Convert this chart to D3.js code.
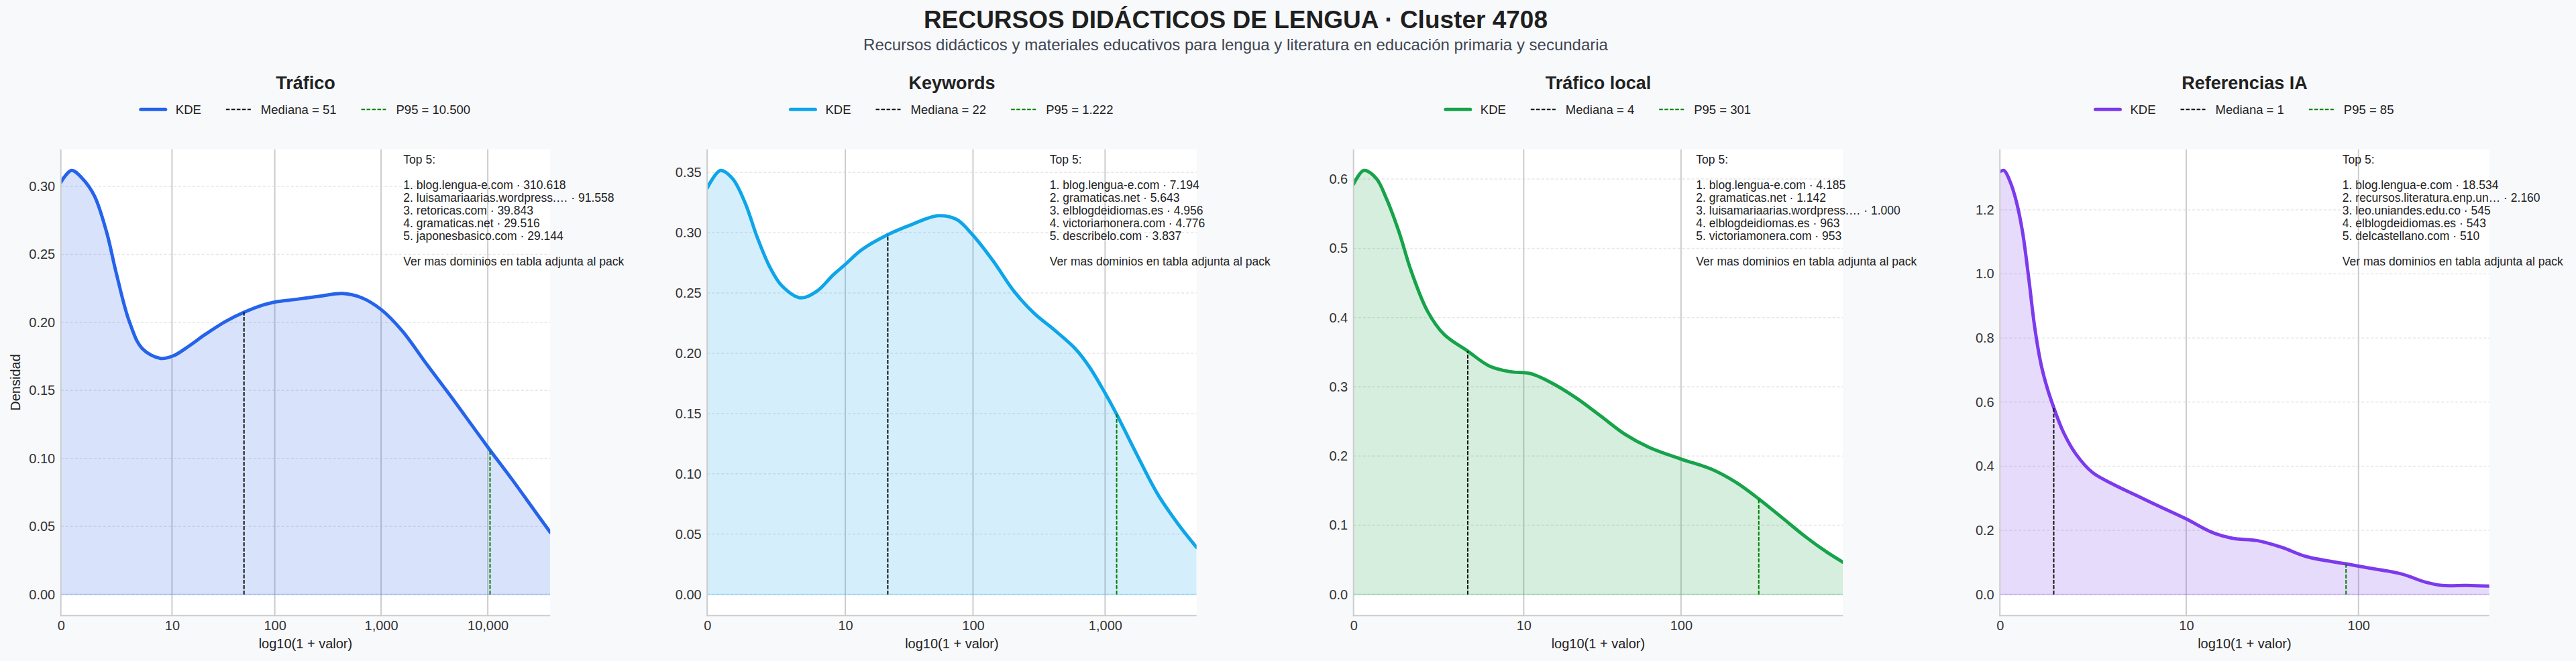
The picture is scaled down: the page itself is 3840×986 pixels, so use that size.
<!DOCTYPE html>
<html>
<head>
<meta charset="utf-8">
<script src="https://cdn.jsdelivr.net/npm/d3@7"></script>
<style>
  body { margin: 0; background: #f8f9fb; }
  svg text { font-family: "Liberation Sans", Arial, sans-serif; }
</style>
</head>
<body>
<script>
// chart text
var mainTitle = "RECURSOS DIDÁCTICOS DE LENGUA · Cluster 4708";
var subTitle = "Recursos didácticos y materiales educativos para lengua y literatura en educación primaria y secundaria";
var panelTitles = ["Tráfico", "Keywords", "Tráfico local", "Referencias IA"];
var lineColors = ["#2563eb", "#0ea5e9", "#16a34a", "#7c3aed"];

// KDE curves, x = log10(1 + valor)
var traficoX = [0, 0.1, 0.2, 0.315, 0.43, 0.52, 0.64, 0.76, 0.93, 1.05, 1.2, 1.35, 1.55, 1.72, 1.89, 2.0, 2.2, 2.43, 2.64, 2.82, 3.0, 3.2, 3.43, 3.66, 3.85, 4.02, 4.24, 4.43, 4.585];
var traficoY = [0.303, 0.3117, 0.306, 0.293, 0.266, 0.236, 0.201, 0.181, 0.1736, 0.1753, 0.1826, 0.191, 0.201, 0.2076, 0.2127, 0.2149, 0.2169, 0.2193, 0.2213, 0.2181, 0.2095, 0.1936, 0.169, 0.145, 0.1245, 0.1062, 0.0832, 0.0625, 0.0457];

var keywordsX = [0, 0.1, 0.19, 0.285, 0.378, 0.47, 0.563, 0.703, 0.827, 0.95, 1.04, 1.167, 1.362, 1.54, 1.74, 1.88, 2.0, 2.158, 2.313, 2.467, 2.622, 2.777, 2.88, 3.0, 3.087, 3.24, 3.396, 3.55, 3.69];
var keywordsY = [0.337, 0.3516, 0.345, 0.325, 0.296, 0.272, 0.256, 0.246, 0.2515, 0.265, 0.2736, 0.286, 0.2984, 0.3067, 0.3141, 0.311, 0.2984, 0.2763, 0.2515, 0.233, 0.219, 0.2036, 0.189, 0.167, 0.1495, 0.116, 0.0833, 0.0585, 0.039];

var localX = [0, 0.063, 0.139, 0.2, 0.277, 0.353, 0.453, 0.554, 0.698, 0.831, 0.957, 1.083, 1.209, 1.36, 1.511, 1.66, 1.81, 2.005, 2.19, 2.34, 2.48, 2.62, 2.77, 2.897, 2.995];
var localY = [0.5927, 0.6124, 0.601, 0.5725, 0.5245, 0.467, 0.409, 0.3756, 0.3516, 0.330, 0.3218, 0.319, 0.306, 0.2843, 0.258, 0.2315, 0.2123, 0.1955, 0.181, 0.162, 0.138, 0.1114, 0.0826, 0.061, 0.0466];

var iaX = [0, 0.023, 0.057, 0.092, 0.126, 0.161, 0.195, 0.23, 0.264, 0.301, 0.356, 0.425, 0.517, 0.632, 0.747, 0.862, 1.041, 1.184, 1.3, 1.437, 1.575, 1.713, 1.933, 2.057, 2.241, 2.379, 2.471, 2.61, 2.735];
var iaY = [1.319, 1.3226, 1.288, 1.226, 1.133, 0.9876, 0.832, 0.718, 0.645, 0.583, 0.505, 0.4378, 0.3807, 0.344, 0.313, 0.282, 0.2355, 0.194, 0.175, 0.168, 0.147, 0.118, 0.0954, 0.083, 0.0643, 0.0384, 0.028, 0.028, 0.0259];

var curveX = [traficoX, keywordsX, localX, iaX];
var curveY = [traficoY, keywordsY, localY, iaY];
var logMax = [4.585, 3.69, 2.995, 2.735];

var medians = [51, 22, 4, 1];
var p95s = [10500, 1222, 301, 85];

var xTickValues = [0, 10, 100, 1000, 10000];
var yTicks = [
    [0, 0.05, 0.10, 0.15, 0.20, 0.25, 0.30],
    [0, 0.05, 0.10, 0.15, 0.20, 0.25, 0.30, 0.35],
    [0, 0.1, 0.2, 0.3, 0.4, 0.5, 0.6],
    [0, 0.2, 0.4, 0.6, 0.8, 1.0, 1.2]
];
var yFormats = [".2f", ".2f", ".1f", ".1f"];

var top5Domains = [
    ["blog.lengua-e.com", "luisamariaarias.wordpress.…", "retoricas.com", "gramaticas.net", "japonesbasico.com"],
    ["blog.lengua-e.com", "gramaticas.net", "elblogdeidiomas.es", "victoriamonera.com", "describelo.com"],
    ["blog.lengua-e.com", "gramaticas.net", "luisamariaarias.wordpress.…", "elblogdeidiomas.es", "victoriamonera.com"],
    ["blog.lengua-e.com", "recursos.literatura.enp.un…", "leo.uniandes.edu.co", "elblogdeidiomas.es", "delcastellano.com"]
];
var top5Values = [
    [310618, 91558, 39843, 29516, 29144],
    [7194, 5643, 4956, 4776, 3837],
    [4185, 1142, 1000, 963, 953],
    [18534, 2160, 545, 543, 510]
];

// layout
var figW = 3840, figH = 986;
var axTop = 222.7, axHeight = 695.6, axWidth = 729.5;
var axLeft0 = 90.7, axStep = 963.5;
var textColor = "#222222";

var esNum = function (v) { return d3.format(",")(v).replace(/,/g, "."); };
var log1p10 = function (v) { return Math.log10(1 + v); };

var svg = d3.select("body").append("svg")
    .attr("width", figW)
    .attr("height", figH);

svg.append("rect").attr("width", figW).attr("height", figH).attr("fill", "#f8f9fb");

// titles
svg.append("text")
    .attr("x", 1842).attr("y", 42)
    .attr("text-anchor", "middle")
    .attr("font-size", 37).attr("font-weight", "bold")
    .attr("fill", "#1f1f1f")
    .text(mainTitle);

svg.append("text")
    .attr("x", 1842).attr("y", 75)
    .attr("text-anchor", "middle")
    .attr("font-size", 24)
    .attr("fill", "#3f4652")
    .text(subTitle);

// find y of drawn path at a given x (binary search along the path)
function yOnPath(node, px) {
    var total = node.getTotalLength();
    var lo = 0, hi = total, p;
    for (var k = 0; k < 40; k++) {
        var mid = (lo + hi) / 2;
        p = node.getPointAtLength(mid);
        if (p.x < px) lo = mid; else hi = mid;
    }
    return node.getPointAtLength((lo + hi) / 2).y;
}

function drawPanel(i) {
    var left = axLeft0 + axStep * i;
    var bottom = axTop + axHeight;
    var color = lineColors[i];
    var peak = d3.max(curveY[i]);

    var x = d3.scaleLinear().domain([0, logMax[i]]).range([left, left + axWidth]);
    var y = d3.scaleLinear().domain([-0.05 * peak, 1.05 * peak]).range([bottom, axTop]);

    var pts = curveX[i].map(function (v, j) { return [v, curveY[i][j]]; });
    var smooth = d3.curveCatmullRom.alpha(0.5);

    var g = svg.append("g");

    // clip to axes
    var clipId = "clip" + i;
    svg.append("clipPath").attr("id", clipId)
        .append("rect")
        .attr("x", left).attr("y", axTop)
        .attr("width", axWidth).attr("height", axHeight);

    g.append("rect")
        .attr("x", left).attr("y", axTop)
        .attr("width", axWidth).attr("height", axHeight)
        .attr("fill", "#ffffff");

    // horizontal dashed grid
    g.append("g")
        .selectAll("line")
        .data(yTicks[i])
        .enter().append("line")
        .attr("x1", left).attr("x2", left + axWidth)
        .attr("y1", function (d) { return y(d); })
        .attr("y2", function (d) { return y(d); })
        .attr("stroke", "#e6e6e6")
        .attr("stroke-width", 1.5)
        .attr("stroke-dasharray", "4,3");

    var visTicks = xTickValues.filter(function (v) { return log1p10(v) <= logMax[i]; });

    // vertical solid grid
    g.append("g")
        .selectAll("line")
        .data(visTicks.filter(function (v) { return v > 0; }))
        .enter().append("line")
        .attr("x1", function (d) { return x(log1p10(d)); })
        .attr("x2", function (d) { return x(log1p10(d)); })
        .attr("y1", axTop).attr("y2", bottom)
        .attr("stroke", "#cccccc")
        .attr("stroke-width", 2);

    var plot = g.append("g").attr("clip-path", "url(#" + clipId + ")");

    var area = d3.area()
        .x(function (d) { return x(d[0]); })
        .y0(y(0))
        .y1(function (d) { return y(d[1]); })
        .curve(smooth);

    plot.append("path")
        .datum(pts)
        .attr("d", area)
        .attr("fill", color)
        .attr("fill-opacity", 0.18);

    plot.append("line")
        .attr("x1", left).attr("x2", left + axWidth)
        .attr("y1", y(0)).attr("y2", y(0))
        .attr("stroke", color)
        .attr("stroke-opacity", 0.25)
        .attr("stroke-width", 2);

    var line = d3.line()
        .x(function (d) { return x(d[0]); })
        .y(function (d) { return y(d[1]); })
        .curve(smooth);

    var kde = plot.append("path")
        .datum(pts)
        .attr("d", line)
        .attr("fill", "none")
        .attr("stroke", color)
        .attr("stroke-width", 5)
        .attr("stroke-linejoin", "round")
        .attr("stroke-linecap", "round");

    // median and p95 markers
    var marks = [
        { v: medians[i], color: "#111111" },
        { v: p95s[i], color: "#008000" }
    ];
    marks.forEach(function (m) {
        var px = x(log1p10(m.v));
        plot.append("line")
            .attr("x1", px).attr("x2", px)
            .attr("y1", y(0))
            .attr("y2", yOnPath(kde.node(), px))
            .attr("stroke", m.color)
            .attr("stroke-width", 2)
            .attr("stroke-dasharray", "5.6,2.4");
    });

    // spines
    g.append("line")
        .attr("x1", left).attr("x2", left)
        .attr("y1", axTop).attr("y2", bottom + 1)
        .attr("stroke", "#cccccc").attr("stroke-width", 2);
    g.append("line")
        .attr("x1", left - 1).attr("x2", left + axWidth)
        .attr("y1", bottom).attr("y2", bottom)
        .attr("stroke", "#cccccc").attr("stroke-width", 2);

    // axes
    var xAxis = d3.axisBottom(x)
        .tickValues(visTicks.map(log1p10))
        .tickFormat(function (d, j) { return d3.format(",")(visTicks[j]); })
        .tickSize(0)
        .tickPadding(7.5);

    var yAxis = d3.axisLeft(y)
        .tickValues(yTicks[i])
        .tickFormat(d3.format(yFormats[i]))
        .tickSize(0)
        .tickPadding(8.5);

    var gx = svg.append("g")
        .attr("transform", "translate(0," + bottom + ")")
        .call(xAxis);
    var gy = svg.append("g")
        .attr("transform", "translate(" + left + ",0)")
        .call(yAxis);
    [gx, gy].forEach(function (a) {
        a.select(".domain").remove();
        a.selectAll("text")
            .attr("font-size", 20)
            .attr("fill", "#333333")
            .style("font-family", "'Liberation Sans', Arial, sans-serif");
    });

    svg.append("text")
        .attr("x", left + axWidth / 2).attr("y", 967)
        .attr("text-anchor", "middle")
        .attr("font-size", 20)
        .attr("fill", textColor)
        .text("log10(1 + valor)");

    if (i === 0) {
        svg.append("text")
            .attr("transform", "translate(30," + (axTop + axHeight / 2) + ") rotate(-90)")
            .attr("text-anchor", "middle")
            .attr("font-size", 20)
            .attr("fill", textColor)
            .text("Densidad");
    }

    // panel title
    var cx = left + axWidth / 2;
    svg.append("text")
        .attr("x", cx).attr("y", 132.7)
        .attr("text-anchor", "middle")
        .attr("font-size", 27).attr("font-weight", "bold")
        .attr("fill", textColor)
        .text(panelTitles[i]);

    // legend
    var legendItems = [
        { label: "KDE", stroke: color, width: 5, dash: null },
        { label: "Mediana = " + esNum(medians[i]), stroke: "#111111", width: 2, dash: "5.6,2.4" },
        { label: "P95 = " + esNum(p95s[i]), stroke: "#008000", width: 2, dash: "5.6,2.4" }
    ];
    var lg = svg.append("g");
    var cursor = 0, ly = 163.3;
    legendItems.forEach(function (it) {
        var l = lg.append("line")
            .attr("x1", cursor).attr("x2", cursor + 37)
            .attr("y1", ly).attr("y2", ly)
            .attr("stroke", it.stroke)
            .attr("stroke-width", it.width);
        if (it.dash) l.attr("stroke-dasharray", it.dash);
        else l.attr("stroke-linecap", "round");
        var t = lg.append("text")
            .attr("x", cursor + 37 + 15).attr("y", ly + 6.6)
            .attr("font-size", 18.5)
            .attr("fill", textColor)
            .text(it.label);
        cursor = cursor + 37 + 15 + t.node().getComputedTextLength() + 37;
    });
    var legendWidth = cursor - 37;
    lg.attr("transform", "translate(" + (cx - legendWidth / 2) + ",0)");

    // top 5 note
    var noteLines = ["Top 5:", ""];
    top5Domains[i].forEach(function (d, j) {
        noteLines.push((j + 1) + ". " + d + " · " + esNum(top5Values[i][j]));
    });
    noteLines.push("");
    noteLines.push("Ver mas dominios en tabla adjunta al pack");

    svg.append("g").selectAll("text")
        .data(noteLines)
        .enter().append("text")
        .attr("x", left + 0.7 * axWidth)
        .attr("y", function (d, j) { return 243.8 + 19 * j; })
        .attr("font-size", 17.5)
        .attr("fill", textColor)
        .text(function (d) { return d; });
}

for (var p = 0; p < 4; p++) {
    drawPanel(p);
}
</script>
</body>
</html>
